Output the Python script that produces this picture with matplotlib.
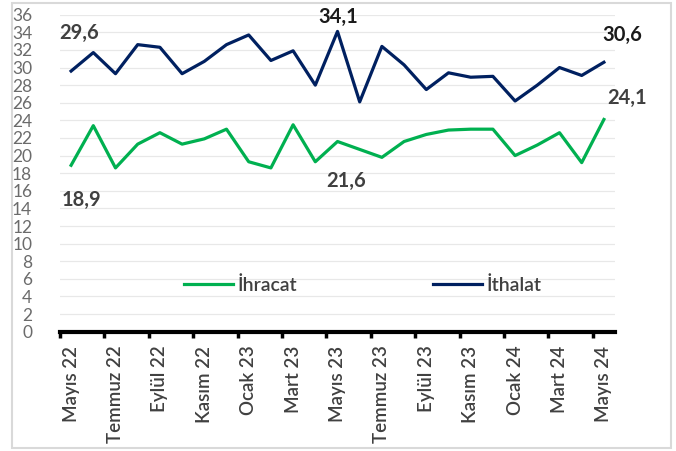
import matplotlib
matplotlib.use("Agg")
import matplotlib.pyplot as plt
from matplotlib.patches import Rectangle

months = ["Mayıs 22", "Haziran 22", "Temmuz 22", "Ağustos 22", "Eylül 22", "Ekim 22",
          "Kasım 22", "Aralık 22", "Ocak 23", "Şubat 23", "Mart 23", "Nisan 23",
          "Mayıs 23", "Haziran 23", "Temmuz 23", "Ağustos 23", "Eylül 23", "Ekim 23",
          "Kasım 23", "Aralık 23", "Ocak 24", "Şubat 24", "Mart 24", "Nisan 24", "Mayıs 24"]
ihracat = [18.9, 23.4, 18.6, 21.3, 22.6, 21.3, 21.9, 23.0, 19.3, 18.6, 23.5, 19.3,
           21.6, 20.7, 19.8, 21.6, 22.4, 22.9, 23.0, 23.0, 20.0, 21.2, 22.6, 19.2, 24.1]
ithalat = [29.6, 31.7, 29.3, 32.6, 32.3, 29.3, 30.7, 32.6, 33.7, 30.8, 31.9, 28.0,
           34.1, 26.1, 32.4, 30.3, 27.5, 29.4, 28.9, 29.0, 26.2, 28.0, 30.0, 29.1, 30.6]
yticks = list(range(0, 37, 2))

FONT = "Lato"
green = "#00B050"
navy = "#002060"

fig = plt.figure(figsize=(6.76, 4.51), dpi=100)
fig.patches.append(Rectangle((12/676, 3/451), 659/676, 445/451, transform=fig.transFigure,
                             fill=False, edgecolor="#d9d9d9", linewidth=1.5))
ax = fig.add_axes([60/676, 1-331.7/451, 555/676, (331.7-14.7)/451])

x = list(range(len(months)))
ax.plot(x, ihracat, color=green, linewidth=2.3, label="İhracat", solid_joinstyle="round")
ax.plot(x, ithalat, color=navy, linewidth=2.3, label="İthalat", solid_joinstyle="round")

ax.set_xlim(-0.5, len(months) - 0.5)
ax.set_ylim(0, 36)
ax.set_yticks(yticks)
ax.set_yticklabels([str(t) for t in yticks], fontfamily=FONT, fontsize=12.5, color="#6b6b6b")
ax.tick_params(axis="y", length=0, pad=20)
ax.yaxis.grid(True, color="#e8e8e8", linewidth=0.9)
ax.set_axisbelow(True)

# x ticks: labels at every second category, tick marks at category boundaries
ax.set_xticks(x[::2])
ax.set_xticklabels(months[::2], rotation=90, fontfamily=FONT, fontsize=13.5,
                   fontweight="semibold", color="#404040")
ax.tick_params(axis="x", length=0, pad=10)
ax.set_xticks([i - 0.5 for i in x[::2]], minor=True)
ax.tick_params(axis="x", which="minor", length=4, width=2.5, color="black", direction="out")

for s in ["left", "right", "top"]:
    ax.spines[s].set_visible(False)
ax.spines["bottom"].set_linewidth(3)
ax.spines["bottom"].set_color("black")

def fmt(v):
    return f"{v:.1f}".replace(".", ",")

ann = [
    (ithalat, 0, (8, 38), "#404040"),
    (ithalat, 12, (1, 14), "#1a1a1a"),
    (ithalat, 24, (18, 27), "#1a1a1a"),
    (ihracat, 0, (10, -35), "#404040"),
    (ihracat, 12, (9, -39), "#404040"),
    (ihracat, 24, (23, 22), "#404040"),
]
for series, i, off, col in ann:
    ax.annotate(fmt(series[i]), (i, series[i]), xytext=off, textcoords="offset pixels",
                ha="center", va="center", fontfamily=FONT, fontweight="bold",
                fontsize=14.5, color=col)

leg = fig.legend(loc="center", bbox_to_anchor=(363/676, 1-285/451), ncol=2, frameon=False,
                 handlelength=2.5, handletextpad=0.25, columnspacing=7.0,
                 prop={"family": FONT, "size": 14, "weight": "semibold"})
for t in leg.get_texts():
    t.set_color("#404040")

fig.savefig("out.png", dpi=100)
